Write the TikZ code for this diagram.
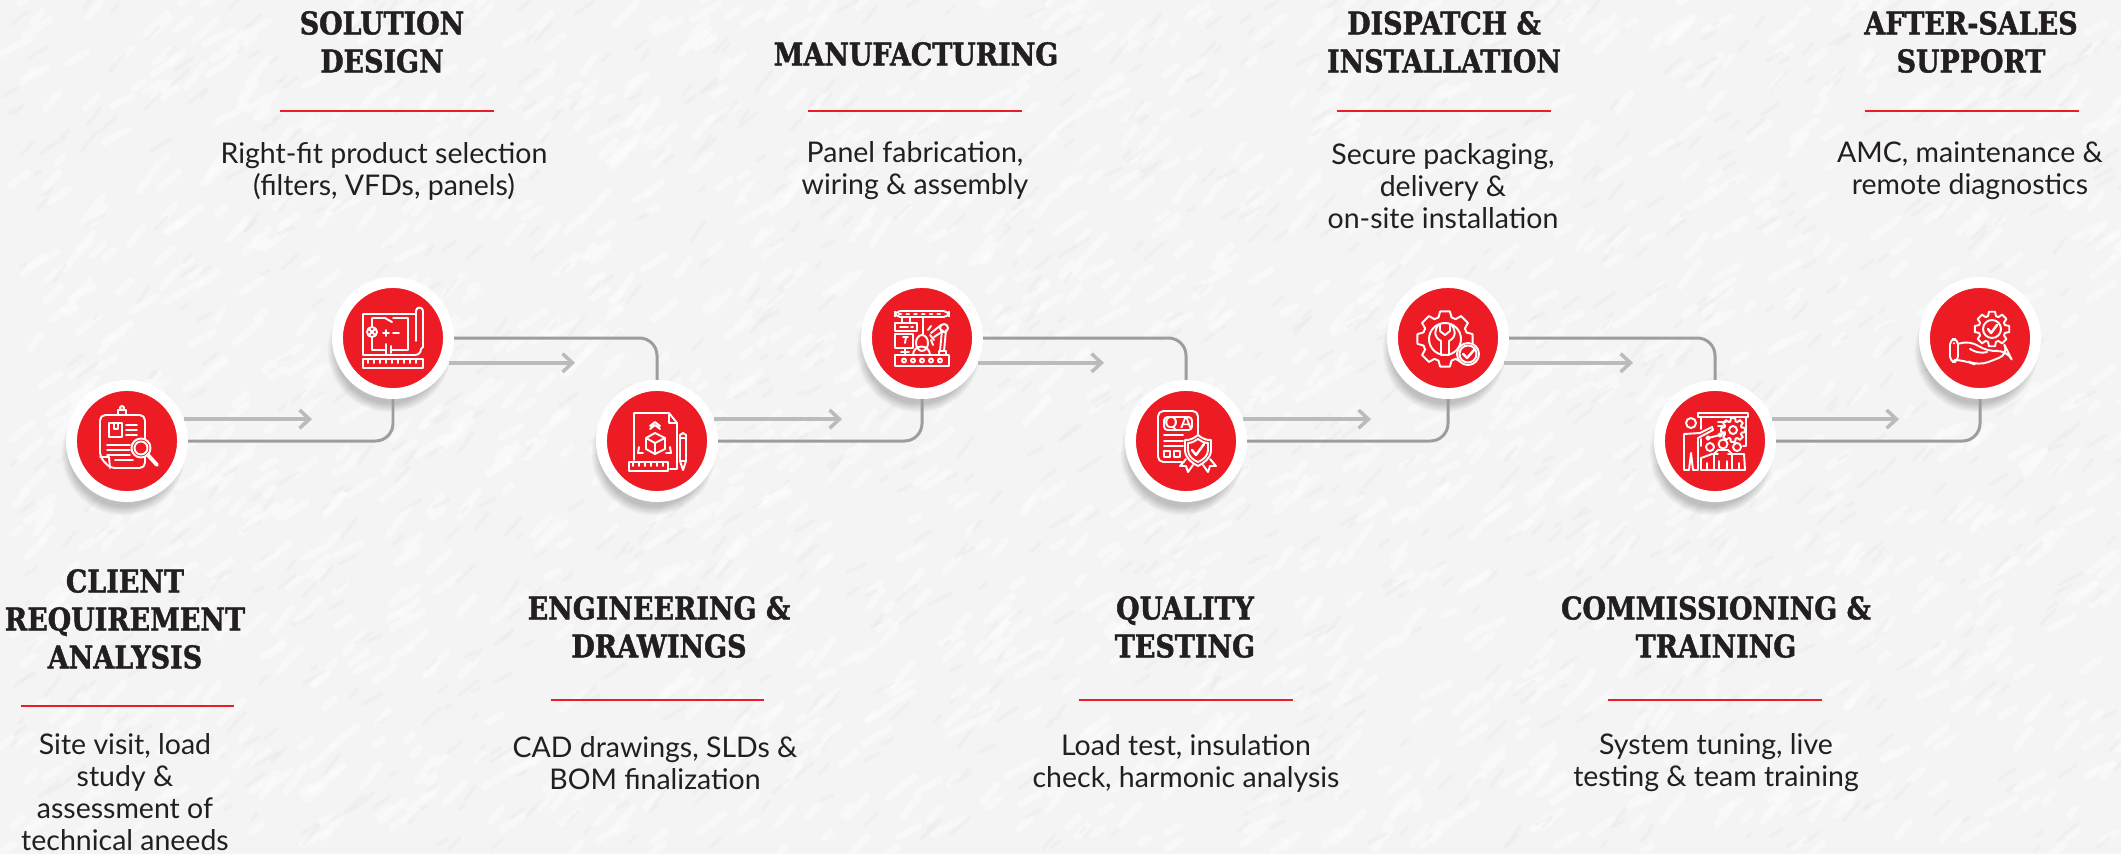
\documentclass[tikz,border=0pt]{standalone}
\usepackage{fontspec}
\setmainfont{Lato}
\newfontfamily\headfont[BoldFeatures={FakeStretch=0.86,FakeBold=1.4}]{DejaVu Serif}
\usetikzlibrary{arrows.meta,shadows}
\definecolor{stepred}{HTML}{ED1C24}
\definecolor{inkdark}{HTML}{231F20}
\definecolor{linkgrey}{HTML}{9B9D9F}
\definecolor{flowgrey}{HTML}{B9BBBD}
\definecolor{paper}{HTML}{F3F4F3}
\tikzset{
  stepdisc/.style={circle,fill=stepred,draw=white,line width=3.1pt,minimum size=31.6pt,inner sep=0pt,
    circular drop shadow={shadow xshift=-1pt,shadow yshift=-3pt,opacity=.45,shadow scale=1.12}},
  headtext/.style={align=center,text=inkdark,font=\headfont\bfseries\fontsize{8.9pt}{10.8pt}\selectfont,inner sep=0pt},
  bodytext/.style={align=center,text=inkdark,font=\fontsize{8.1pt}{9.1pt}\selectfont,inner sep=0pt},
  redrule/.style={fill=stepred,minimum width=60.6pt,minimum height=.8pt,inner sep=0pt},
  link/.style={draw=linkgrey,line width=.85pt,rounded corners=5pt},
  flow/.style={draw=flowgrey,line width=1pt,-{Straight Barb[length=2.8pt,width=5.2pt]}},
  iconline/.style={draw=white,line width=.55pt,line join=round,line cap=round},
  grain/.style={line width=2pt,line cap=round}
}
\newcommand{\gearshape}[3]{% centre, root radius, tip radius
  \foreach \a in {0,45,...,315}
    \draw[iconline,shift={#1}] (\a-17:#2) -- (\a-10:#3) -- (\a+10:#3) -- (\a+17:#2)
      arc[start angle=\a+17,end angle=\a+28,radius=#2];
}
\begin{document}
\begin{tikzpicture}[x=.01cm,y=-.01cm]
\useasboundingbox (0,0) rectangle (2121,854);
\fill[paper] (0,0) rectangle (2121,854);
\begin{scope}
  \clip (0,0) rectangle (2121,854);
  \pgfmathsetseed{11}
  \foreach \i in {1,...,1800} {
    \pgfmathsetmacro{\gx}{rnd*2121}
    \pgfmathsetmacro{\gy}{rnd*854}
    \pgfmathsetmacro{\ga}{-55+rnd*30}
    \pgfmathsetmacro{\gl}{8+rnd*26}
    \draw[grain,white,opacity=.4] (\gx,\gy) -- ++(\ga:\gl);
  }
  \foreach \i in {1,...,1100} {
    \pgfmathsetmacro{\gx}{rnd*2121}
    \pgfmathsetmacro{\gy}{rnd*854}
    \pgfmathsetmacro{\ga}{-55+rnd*30}
    \pgfmathsetmacro{\gl}{6+rnd*20}
    \draw[grain,black!9,opacity=.35,line width=1pt] (\gx,\gy) -- ++(\ga:\gl);
  }
\end{scope}

\node (c1) [stepdisc] at (127,441) {};
\node (c2) [stepdisc] at (393,338) {};
\node (c3) [stepdisc] at (657,441) {};
\node (c4) [stepdisc] at (922,338) {};
\node (c5) [stepdisc] at (1186,441) {};
\node (c6) [stepdisc] at (1448,338) {};
\node (c7) [stepdisc] at (1715,441) {};
\node (c8) [stepdisc] at (1980,338) {};

\path[link]
  (c1) edge [to path={-| (\tikztotarget)}] (c2)
  (c2) edge [to path={-| (\tikztotarget)}] (c3)
  (c3) edge [to path={-| (\tikztotarget)}] (c4)
  (c4) edge [to path={-| (\tikztotarget)}] (c5)
  (c5) edge [to path={-| (\tikztotarget)}] (c6)
  (c6) edge [to path={-| (\tikztotarget)}] (c7)
  (c7) edge [to path={-| (\tikztotarget)}] (c8);

\coordinate (a1) at (312,419);
\coordinate (a2) at (575,363);
\coordinate (a3) at (842,419);
\coordinate (a4) at (1104,363);
\coordinate (a5) at (1371,419);
\coordinate (a6) at (1633,363);
\coordinate (a7) at (1899,419);
\draw[flow] (c1.21) -- (c1.21 -| a1);
\draw[flow] (c2.-24) -- (c2.-24 -| a2);
\draw[flow] (c3.21) -- (c3.21 -| a3);
\draw[flow] (c4.-24) -- (c4.-24 -| a4);
\draw[flow] (c5.21) -- (c5.21 -| a5);
\draw[flow] (c6.-24) -- (c6.-24 -| a6);
\draw[flow] (c7.21) -- (c7.21 -| a7);

% clipboard
\begin{scope}[shift={(c1)}]
  \draw[iconline,rounded corners=1.5pt] (-27,16) -- (-27,-26) -- (18,-26) -- (18,27) -- (-17,27) -- cycle;
  \draw[iconline] (-27,16) -- (-18,16) -- (-17,27);
  \draw[iconline] (-9,-26) -- (-9,-31) -- (-1,-31) -- (-1,-26);
  \draw[iconline] (-5,-33) circle (2);
  \draw[iconline] (-18,-18) rectangle (-5,-4);
  \draw[iconline] (-13,-18) -- (-13,-12) -- (-9,-12) -- (-9,-18);
  \draw[iconline] (-1,-16) -- (10,-16) (-1,-11) -- (10,-11) (-1,-6) -- (10,-6);
  \draw[iconline] (-20,4) -- (3,4) (-20,9) -- (3,9) (-20,14) -- (3,14) (-12,19) -- (6,19);
  \draw[iconline,fill=stepred] (14,7) circle (9.5);
  \draw[iconline] (14,7) circle (6.5);
  \draw[iconline,line width=1.1pt] (21,14) -- (30,24);
\end{scope}

% blueprint
\begin{scope}[shift={(c2)}]
  \draw[iconline] (23,-24) -- (-30,-24) -- (-30,17) -- (22,17) arc[start angle=90,end angle=0,radius=6];
  \draw[iconline] (23,3) -- (23,-27) arc[start angle=180,end angle=360,radius=3.5] -- (30,9) -- (28,11);
  \draw[iconline] (-30,21) rectangle (30,30);
  \draw[iconline] (-25,21) -- (-25,25) (-19,21) -- (-19,25) (-13,21) -- (-13,25) (-7,21) -- (-7,25)
    (-1,21) -- (-1,25) (5,21) -- (5,25) (11,21) -- (11,25) (17,21) -- (17,25) (23,21) -- (23,25);
  \draw[iconline] (-21,-11) -- (-21,-20) -- (-8,-20) -- (-1,-16) (0,-20) -- (15,-20) -- (15,12) -- (-2,12)
    (-7,12) -- (-21,12) -- (-21,-1);
  \draw[iconline] (-21,-6) circle (5);
  \draw[iconline] (-24.5,-9.5) -- (-17.5,-2.5) (-17.5,-9.5) -- (-24.5,-2.5);
  \draw[iconline] (-10,-5) -- (-4,-5) (-7,-8) -- (-7,-2) (0,-5) -- (6,-5);
  \draw[iconline] (-7,6) -- (-7,17) (-2,8) -- (-2,15);
\end{scope}

% drawing sheet
\begin{scope}[shift={(c3)}]
  \draw[iconline] (-23,19) -- (-23,-28) -- (12,-28) -- (20,-18) -- (20,28) -- (13,28);
  \draw[iconline] (12,-28) -- (12,-18) -- (20,-18);
  \draw[iconline] (-28,21) rectangle (11,30);
  \draw[iconline] (-24,21) -- (-24,25) (-18,21) -- (-18,25) (-12,21) -- (-12,25) (-6,21) -- (-6,25)
    (0,21) -- (0,25) (6,21) -- (6,25);
  \draw[iconline] (-2,-8) -- (8,-3) -- (8,8) -- (-2,13) -- (-11,8) -- (-11,-3) -- cycle;
  \draw[iconline] (-11,-3) -- (-2,2) -- (8,-3) (-2,2) -- (-2,13);
  \draw[iconline] (-7,-12) -- (-2,-16) -- (3,-12) (-7,-15) -- (-2,-19) -- (3,-15);
  \draw[iconline] (-18,6) -- (-19,12) -- (-14,12) (9,12) -- (14,12) -- (13,6);
  \draw[iconline] (23,-6) -- (23,20) -- (26,29) -- (29,20) -- (29,-6) -- (26,-8) -- cycle;
  \draw[iconline] (23,-3) -- (29,-3) (23,20) -- (29,20);
\end{scope}

% production line
\begin{scope}[shift={(c4)}]
  \draw[iconline,rounded corners=1.5pt] (-27,-27) rectangle (27,-21);
  \draw[iconline,dash pattern=on .6pt off 1.6pt,line width=.8pt] (-23,-24) -- (23,-24);
  \draw[iconline] (-20,-21) -- (-20,-15) (-12,-21) -- (-12,-15);
  \draw[iconline] (-27,-15) rectangle (-5,-7);
  \draw[iconline] (-22,-11) -- (-14,-11) (-11,-11) -- (-9,-11);
  \draw[iconline] (1,-21) -- (1,-4);
  \draw[iconline] (0,5) ellipse (6 and 8);
  \draw[iconline] (-27,-4) rectangle (-9,10);
  \draw[iconline] (-17,5) -- (-16,-1) (-19,-1) -- (-14,-1);
  \draw[iconline] (-17,10) -- (-17,17) (-21,14) -- (-13,14);
  \draw[iconline] (-9,17) arc[start angle=180,end angle=360,radius=8.5];
  \draw[iconline] (-27,17) rectangle (27,28);
  \foreach \bx in {-18,-9,0,9,18} \draw[iconline] (\bx,22.5) circle (2);
  \draw[iconline] (17,17) -- (17,13) -- (24,13) -- (24,17) (18,13) -- (20,-8) (22,13) -- (24,-8);
  \draw[iconline] (22,-10) circle (4);
  \draw[iconline] (19,-13) -- (9,-5) (21,-7) -- (12,-1);
  \draw[iconline] (8,-3) -- (12,2) (6,-8) -- (9,-12) (9,2) -- (11,7);
\end{scope}

% test report
\begin{scope}[shift={(c5)}]
  \draw[iconline,rounded corners=1.5pt] (-2,21) -- (-28,21) -- (-28,-30) -- (12,-30) -- (12,-7);
  \draw[iconline,rounded corners=1pt] (-22,-24) rectangle (6,-11);
  \node (qa) [text=white,font=\fontsize{4.6pt}{5pt}\selectfont\bfseries,inner sep=0pt] at (-8,-17.5) {Q\,A};
  \draw[iconline] (-22,-6) -- (-3,-6) (-22,0) -- (-3,0) (-22,5) -- (-3,5);
  \draw[iconline] (-22,10) rectangle (-16,16) (-12,10) rectangle (-6,16);
  \draw[iconline,fill=stepred] (12,-6) .. controls (7,-2) and (4,-1) .. (-1,-1) -- (-1,9)
    .. controls (-1,17) and (6,22) .. (12,25) .. controls (18,22) and (25,17) .. (25,9) -- (25,-1)
    .. controls (20,-1) and (17,-2) .. (12,-6);
  \draw[iconline] (2,2) -- (2,9) .. controls (2,15) and (7,19) .. (12,21) .. controls (17,19) and (22,15) .. (22,9) -- (22,2) .. controls (18,2) and (15,0) .. (12,-2) .. controls (9,0) and (6,2) .. (2,2);
  \draw[iconline,line width=.7pt] (6,9) -- (10,14) -- (18,3);
  \draw[iconline] (0,18) -- (-6,25) -- (0,25) -- (2,31) -- (7,24);
  \draw[iconline] (24,18) -- (30,25) -- (24,25) -- (22,31) -- (17,24);
\end{scope}

% wrench in gear
\begin{scope}[shift={(c6)}]
  \gearshape{(-3,1)}{22.5}{28}
  \draw[iconline] (-3,1) circle (16);
  \draw[iconline] (-8,-14) -- (-8,-7) -- (-3,-3) -- (2,-7) -- (2,-14)
    .. controls (8,-10) and (9,-1) .. (1,3) -- (1,17) -- (-7,17) -- (-7,3)
    .. controls (-15,-1) and (-14,-10) .. (-8,-14);
  \draw[iconline,fill=stepred] (20,16) circle (11);
  \draw[iconline] (20,16) circle (8.5);
  \draw[iconline,line width=.7pt] (15,16) -- (19,20) -- (26,12);
\end{scope}

% trainer and audience
\begin{scope}[shift={(c7)}]
  \draw[iconline] (-17,-28) rectangle (33,-24);
  \draw[iconline] (-14,-24) -- (-14,-12) (31,-24) -- (31,5) -- (28,5) (-14,-2) -- (-14,5);
  \draw[iconline] (3,-19) -- (11,-19) (3,-15) -- (8,-15);
  \draw[iconline] (-24,-18) circle (5);
  \draw[iconline] (-15,-8) -- (-3,-14) -- (-2,-11) -- (-17,-3) -- (-17,29) -- (-22,29) -- (-24,12) -- (-26,29) -- (-31,29) -- (-31,-7) -- (-15,-8);
  \draw[iconline] (-7,-3) circle (1.7) (5,-6) circle (1.7);
  \draw[iconline] (-5,-3.5) -- (3,-5.5) (7,-6.5) -- (10,-9);
  \gearshape{(18,-11)}{9}{12}
  \draw[iconline] (18,-11) circle (4);
  \draw[iconline] (-5,6) circle (4) (8,3) circle (4.5) (22,6) circle (4);
  \draw[iconline] (-14,29) -- (-14,17) -- (-3,13) -- (3,13) (-1,29) -- (-1,13) -- (3,9) -- (13,9) -- (17,13) -- (17,29)
    (13,13) -- (29,13) -- (30,29) -- (-14,29);
  \draw[iconline] (-8,22) -- (-8,29) (4,20) -- (4,29) (12,20) -- (12,29) (24,22) -- (24,29);
\end{scope}

% hand with gear
\begin{scope}[shift={(c8)}]
  \gearshape{(12,-9)}{13.5}{17.5}
  \draw[iconline] (12,-9) circle (9);
  \draw[iconline,line width=.7pt] (8,-9) -- (11,-5) -- (17,-13);
  \draw[iconline,rounded corners=1.5pt] (-30,1) rectangle (-22,24);
  \draw[iconline] (-26,5) -- (-26,5.5);
  \draw[iconline,rounded corners=3pt] (-22,6) -- (-10,2) -- (7,14) -- (27,12) -- (29,16) -- (-2,28) -- (-15,22) -- (-22,22);
  \draw[iconline,rounded corners=2pt] (-10,11) -- (0,16) -- (7,14);
\end{scope}

\node (t1) [headtext] at (125,619) {CLIENT\\REQUIREMENT\\ANALYSIS};
\node (u1) [redrule] at (127.5,706) {};
\node (b1) [bodytext] at (125,792) {Site visit, load\\study \&\\assessment of\\technical aneeds};

\node (t2) [headtext] at (382,42) {SOLUTION\\DESIGN};
\node (u2) [redrule] at (387,111) {};
\node (b2) [bodytext] at (384,171) {Right-fit product selection\\(filters, VFDs, panels)};

\node (t3) [headtext] at (659,627) {ENGINEERING \&\\DRAWINGS};
\node (u3) [redrule] at (657.5,700) {};
\node (b3) [bodytext] at (655,763) {CAD drawings, SLDs \&\\BOM finalization};

\node (t4) [headtext] at (916,54) {MANUFACTURING};
\node (u4) [redrule] at (915,111) {};
\node (b4) [bodytext] at (915,171) {Panel fabrication,\\wiring \& assembly};

\node (t5) [headtext] at (1185,627) {QUALITY\\TESTING};
\node (u5) [redrule] at (1186,700) {};
\node (b5) [bodytext] at (1186,763) {Load test, insulation\\check, harmonic analysis};

\node (t6) [headtext] at (1444,42) {DISPATCH \&\\INSTALLATION};
\node (u6) [redrule] at (1444,111) {};
\node (b6) [bodytext] at (1443,186) {Secure packaging,\\delivery \&\\on-site installation};

\node (t7) [headtext] at (1716,627) {COMMISSIONING \&\\TRAINING};
\node (u7) [redrule] at (1715,700) {};
\node (b7) [bodytext] at (1716,763) {System tuning, live\\testing \& team training};

\node (t8) [headtext] at (1971,42) {AFTER-SALES\\SUPPORT};
\node (u8) [redrule] at (1972,111) {};
\node (b8) [bodytext] at (1970,171) {AMC, maintenance \&\\remote diagnostics};
\end{tikzpicture}
\end{document}
